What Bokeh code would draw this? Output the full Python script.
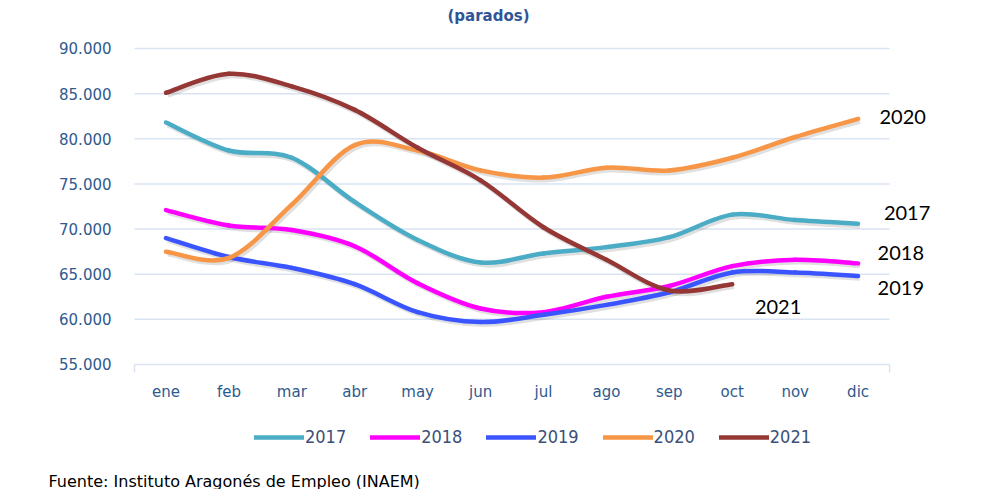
from bokeh.plotting import figure
from bokeh.models import ColumnDataSource, Range1d, FixedTicker, Label, Legend, LegendItem
from bokeh.embed import file_html
from bokeh.resources import INLINE

months = ["ene", "feb", "mar", "abr", "may", "jun", "jul", "ago", "sep", "oct", "nov", "dic"]
y2017 = [81800, 78700, 77900, 73000, 68800, 66300, 67300, 68000, 69100, 71600, 71000, 70600]
y2018 = [72100, 70400, 69900, 68100, 64000, 61200, 60800, 62500, 63700, 65900, 66600, 66200]
y2019 = [69000, 66900, 65700, 63900, 60800, 59700, 60500, 61600, 63000, 65200, 65200, 64800]
y2020 = [67500, 66800, 72700, 79300, 78700, 76500, 75700, 76800, 76500, 77900, 80200, 82200]
y2021 = [85100, 87200, 85800, 83200, 79000, 75400, 70200, 66600, 63200, 63900]
yticks = [55000, 60000, 65000, 70000, 75000, 80000, 85000, 90000]

series = [
    ("2017", y2017, "#4BACC6"),
    ("2018", y2018, "#FF00FF"),
    ("2019", y2019, "#3A55FF"),
    ("2020", y2020, "#F79646"),
    ("2021", y2021, "#953735"),
]


def smooth_source(vals, dx=0.0, dy=0.0):
    n = len(vals)
    d = dict(x0=[], y0=[], x1=[], y1=[], cx0=[], cy0=[], cx1=[], cy1=[])
    for i in range(n - 1):
        im, i2 = max(i - 1, 0), min(i + 2, n - 1)
        d["x0"].append(i + dx); d["y0"].append(vals[i] + dy)
        d["x1"].append(i + 1 + dx); d["y1"].append(vals[i + 1] + dy)
        d["cx0"].append(i + dx + (i + 1 - im) / 6.0)
        d["cy0"].append(vals[i] + dy + (vals[i + 1] - vals[im]) / 6.0)
        d["cx1"].append(i + 1 + dx - (i2 - i) / 6.0)
        d["cy1"].append(vals[i + 1] + dy - (vals[i2] - vals[i]) / 6.0)
    return ColumnDataSource(d)


n_cat = len(months)
W, H = 985, 489
p = figure(width=W, height=H, output_backend="svg", toolbar_location=None,
           x_range=Range1d(-2.63, 13.025), y_range=Range1d(41155, 95316), min_border=0)
p.outline_line_color = None
p.xgrid.grid_line_color = None
p.ygrid.grid_line_color = None

# horizontal gridlines limited to the category span
p.segment(x0=[-0.5] * len(yticks), x1=[n_cat - 0.5] * len(yticks), y0=yticks, y1=yticks,
          line_color="#D9E4F2", line_width=1.5)
# small end ticks of the category axis
p.segment(x0=[-0.5, n_cat - 0.5], x1=[-0.5, n_cat - 0.5], y0=[yticks[0]] * 2,
          y1=[yticks[0] - 900] * 2, line_color="#D9E4F2", line_width=1.5)

p.yaxis.fixed_location = -0.5
p.yaxis.ticker = FixedTicker(ticks=yticks)
p.yaxis.major_label_overrides = {t: f"{t:,}".replace(",", ".") for t in yticks}
p.yaxis.axis_line_color = None
p.yaxis.major_tick_line_color = None
p.yaxis.minor_tick_line_color = None
p.yaxis.major_label_standoff = 17
p.yaxis.major_label_text_font = "DejaVu Sans"
p.yaxis.major_label_text_font_size = "15px"
p.yaxis.major_label_text_color = "#2E5A8E"

p.xaxis.fixed_location = yticks[0]
p.xaxis.ticker = FixedTicker(ticks=list(range(n_cat)))
p.xaxis.major_label_overrides = {i: m for i, m in enumerate(months)}
p.xaxis.axis_line_color = None
p.xaxis.major_tick_line_color = None
p.xaxis.minor_tick_line_color = None
p.xaxis.major_label_standoff = 13
p.xaxis.major_label_text_font = "DejaVu Sans"
p.xaxis.major_label_text_font_size = "15px"
p.xaxis.major_label_text_color = "#2E5A8E"

# soft shadows below the lines
for name, vals, color in series:
    p.bezier(x0="x0", y0="y0", x1="x1", y1="y1", cx0="cx0", cy0="cy0", cx1="cx1", cy1="cy1",
             source=smooth_source(vals, 0.03, -260), line_color="#000000", line_alpha=0.12,
             line_width=5, line_cap="butt")

items = []
for name, vals, color in series:
    r = p.bezier(x0="x0", y0="y0", x1="x1", y1="y1", cx0="cx0", cy0="cy0", cx1="cx1", cy1="cy1",
                 source=smooth_source(vals), line_color=color, line_width=4.5, line_cap="round")
    items.append(LegendItem(label=name, renderers=[r]))

legend = Legend(items=items, orientation="horizontal", location=(254, 42),
                glyph_width=50, glyph_height=20, label_standoff=1, spacing=24,
                padding=0, margin=0, border_line_color=None, background_fill_alpha=0,
                label_text_font="DejaVu Sans Condensed", label_text_font_size="18px",
                label_text_color="#3B5078", label_height=20)
p.add_layout(legend)

end_labels = [("2020", 11.34, 82370), ("2017", 11.41, 71750), ("2018", 11.31, 67330),
              ("2019", 11.31, 63460), ("2021", 9.36, 61360)]
for txt, lx, ly in end_labels:
    p.add_layout(Label(x=lx, y=ly, text=txt, text_font="Lato", text_font_size="20px",
                       text_color="#000000", text_baseline="middle", text_align="left"))

p.add_layout(Label(x=488, y=H - 15, x_units="screen", y_units="screen", text="(parados)",
                   text_font="DejaVu Sans", text_font_style="bold", text_font_size="15px",
                   text_color="#2F5597", text_align="center", text_baseline="middle"))
p.add_layout(Label(x=48, y=-1, x_units="screen", y_units="screen",
                   text="Fuente: Instituto Aragonés de Empleo (INAEM)",
                   text_font="DejaVu Sans", text_font_size="16px", text_color="#000000",
                   text_align="left", text_baseline="bottom"))

open("out.html", "w").write(file_html(p, INLINE))
